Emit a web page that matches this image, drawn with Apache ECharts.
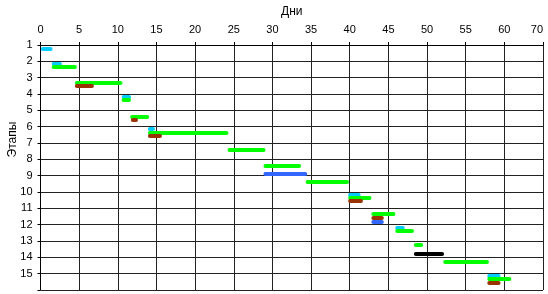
<!DOCTYPE html>
<html><head><meta charset="utf-8">
<script src="https://cdn.jsdelivr.net/npm/echarts@6/dist/echarts.min.js"></script>
<style>html,body{margin:0;padding:0;background:#fff}#c{width:548px;height:294px}</style>
</head><body><div id="c"></div>
<script>
// x tick labels (last grid line labelled 70 in the source)
const xTickLabels = ['0','5','10','15','20','25','30','35','40','45','50','55','60','70'];
const stageLabels = ['1','2','3','4','5','6','7','8','9','10','11','12','13','14','15'];

// bars by colour: start day, end day, row position (stage + offset)
const cyanStart = [0.3, 1.7, 10.75, 14.15, 40.05, 46.15, 58.05];
const cyanEnd   = [1.3, 2.5, 11.45, 14.55, 41.15, 46.85, 59.25];
const cyanRow   = [1.20, 2.15, 4.18, 6.14, 10.14, 12.16, 15.12];

const greenStart = [1.7, 4.7, 10.75, 11.85, 14.15, 24.45, 29.1, 34.55, 40.05, 43.05, 46.15, 48.55, 52.35, 58.05];
const greenEnd   = [4.45, 10.35, 11.45, 13.8, 24.05, 28.85, 33.45, 39.65, 42.55, 45.65, 48.05, 49.25, 57.75, 60.65];
const greenRow   = [2.35, 3.29, 4.35, 5.39, 6.35, 7.39, 8.39, 9.39, 10.37, 11.33, 12.35, 13.23, 14.29, 15.32];

const brownStart = [4.7, 11.95, 14.15, 40.05, 43.05, 58.05];
const brownEnd   = [6.65, 12.35, 15.45, 41.45, 44.15, 59.25];
const brownRow   = [3.51, 5.57, 6.55, 10.55, 11.59, 15.57];

const blueStart = [29.1, 43.05];
const blueEnd   = [34.25, 44.15];
const blueRow   = [8.86, 11.84];

const blackStart = [48.55];
const blackEnd   = [51.95];
const blackRow   = [13.78];

function segs(s, e, r) {
  return s.map((v, i) => ({ coords: [[v, r[i]], [e[i], r[i]]] }));
}
function ser(name, color, s, e, r) {
  return {
    type: 'lines', name, coordinateSystem: 'cartesian2d', polyline: false,
    lineStyle: { color, width: 4, opacity: 1, cap: 'round' },
    silent: true, z: 5,
    data: segs(s, e, r)
  };
}

const chart = echarts.init(document.getElementById('c'), null, { renderer: 'canvas' });
const font = 'Liberation Sans, Arial, sans-serif';
chart.setOption({
  animation: false,
  grid: { left: 40.5, right: 5, top: 45, bottom: 4, containLabel: false, outerBoundsMode: 'none' },
  xAxis: {
    type: 'value', position: 'top', min: 0, max: 65, interval: 5,
    name: 'Дни', nameLocation: 'middle', nameGap: 27, nameMoveOverlap: false,
    nameTextStyle: { fontFamily: font, fontSize: 12, color: '#000' },
    axisLine: { show: true, lineStyle: { color: '#000', width: 1 } },
    axisTick: { show: true, length: 3, lineStyle: { color: '#000' } },
    axisLabel: { fontFamily: font, fontSize: 11, color: '#000', margin: 10,
      alignMaxLabel: 'right',
      formatter: (v) => xTickLabels[Math.round(v / 5)] },
    splitLine: { show: true, lineStyle: { color: '#222', width: 1 } }
  },
  yAxis: {
    type: 'value', inverse: true, min: 1, max: 16, interval: 1,
    name: 'Этапы', nameLocation: 'middle', nameGap: 22, nameMoveOverlap: false,
    nameTextStyle: { fontFamily: font, fontSize: 12, color: '#000', padding: [0, 0, 0, 56] },
    axisLine: { show: true, lineStyle: { color: '#000', width: 1 } },
    axisTick: { show: true, length: 3, lineStyle: { color: '#000' } },
    axisLabel: { fontFamily: font, fontSize: 11, color: '#000', margin: 8,
      verticalAlign: 'middle', padding: [0, 0, 4, 0],
      formatter: (v) => (v >= 1 && v <= 15) ? stageLabels[v - 1] : '' },
    splitLine: { show: true, lineStyle: { color: '#222', width: 1 } }
  },
  series: [
    ser('cyan', '#00ccff', cyanStart, cyanEnd, cyanRow),
    ser('green', '#00ff00', greenStart, greenEnd, greenRow),
    ser('brown', '#993300', brownStart, brownEnd, brownRow),
    ser('blue', '#3366ff', blueStart, blueEnd, blueRow),
    ser('black', '#000000', blackStart, blackEnd, blackRow)
  ]
});
</script></body></html>
